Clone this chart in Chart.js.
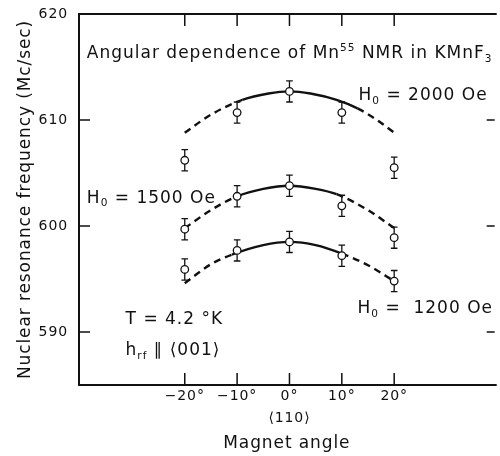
<!DOCTYPE html>
<html>
<head>
<meta charset="utf-8">
<script src="https://cdn.jsdelivr.net/npm/chart.js@4.4.1/dist/chart.umd.min.js"></script>
<style>
html,body{margin:0;padding:0;background:#fff;}
#wrap{width:500px;height:456px;}
</style>
</head>
<body>
<div id="wrap"><canvas id="nmrChart" width="500" height="456"></canvas></div>
<script>
// measured points: magnet angle (deg) vs frequency (Mc/sec)
const angles = [-20, -10, 0, 10, 20];
const freq2000 = [606.2, 610.7, 612.7, 610.7, 605.5];
const freq1500 = [599.7, 602.8, 603.8, 601.9, 598.9];
const freq1200 = [595.9, 597.7, 598.5, 597.2, 594.8];
const errBar = [1.0, 1.0, 1.0, 1.0, 1.0];

// curves as drawn on the figure
const curveAngles2000 = [-20, -15, -9, -4, 0, 4, 9, 13, 17, 20];
const curve2000 = [608.8, 610.5, 611.9, 612.5, 612.7, 612.5, 611.9, 611.1, 609.9, 608.8];
const curveAngles1500 = [-20, -15, -10, -5, 0, 5, 9, 15, 20];
const curve1500 = [599.8, 601.5, 602.8, 603.5, 603.8, 603.5, 603.0, 601.5, 599.8];
const curveAngles1200 = [-20, -15, -11, -5, 0, 5, 10, 15, 20];
const curve1200 = [594.6, 596.4, 597.3, 598.2, 598.5, 598.2, 597.4, 596.3, 594.8];
// solid part of each curve, dashed outside it
const solid2000 = [-9, 13];
const solid1500 = [-10, 9];
const solid1200 = [-11, 10];

const xTicks = [-20, -10, 0, 10, 20];
const yTicks = [590, 600, 610, 620];

const FONT = "'DejaVu Sans', sans-serif";
const INK = "#111";

function dashOutside(range){
  return ctx => (ctx.p0.parsed.x >= range[0] && ctx.p1.parsed.x <= range[1]) ? [] : [7, 5];
}

function curve(xs, ys, range){
  return {
    data: xs.map((x, i) => ({x: x, y: ys[i]})),
    showLine: true,
    borderColor: INK,
    borderWidth: 2.4,
    pointRadius: 0,
    cubicInterpolationMode: "monotone",
    segment: {borderDash: dashOutside(range)},
    order: 2
  };
}

function points(ys){
  return {
    data: angles.map((x, i) => ({x: x, y: ys[i]})),
    showLine: false,
    pointRadius: 3.8,
    pointBackgroundColor: "#fff",
    pointBorderColor: INK,
    pointBorderWidth: 1.3,
    errors: errBar,
    order: 0
  };
}

function drawRich(ctx, parts, x, y, size){
  parts.forEach(p => {
    const s = (p.sub || p.sup) ? size * 0.62 : size;
    ctx.font = s + "px " + FONT;
    const dy = p.sub ? size * 0.22 : (p.sup ? -size * 0.42 : 0);
    ctx.fillText(p.t, x, y + dy);
    x += ctx.measureText(p.t).width;
  });
}

// text placed in data coordinates
const notes = [
  {x: -38.7, y: 615.85, parts: [{t: "Angular dependence of Mn"}, {t: "55", sup: 1}, {t: " NMR in KMnF"}, {t: "3", sub: 1}]},
  {x: 13.2, y: 611.9, parts: [{t: "H"}, {t: "0", sub: 1}, {t: " = 2000 Oe"}]},
  {x: -38.7, y: 602.2, parts: [{t: "H"}, {t: "0", sub: 1}, {t: " = 1500 Oe"}]},
  {x: 13.0, y: 591.8, parts: [{t: "H"}, {t: "0", sub: 1}, {t: " =  1200 Oe"}]},
  {x: -31.3, y: 590.75, parts: [{t: "T = 4.2 °K"}]},
  {x: -31.3, y: 587.8, parts: [{t: "h"}, {t: "rf", sub: 1}, {t: " ∥ ⟨001⟩"}]}
];

const framePlugin = {
  id: "frame",
  beforeDraw(chart){
    chart.ctx.letterSpacing = "0.9px";
  },
  beforeDatasetsDraw(chart){
    const {ctx, scales: {x, y}} = chart;
    ctx.save();
    ctx.strokeStyle = INK;
    ctx.lineWidth = 1.3;
    chart.data.datasets.forEach(ds => {
      if (!ds.errors) return;
      ds.data.forEach((p, i) => {
        const px = x.getPixelForValue(p.x);
        const t = y.getPixelForValue(p.y + ds.errors[i]);
        const b = y.getPixelForValue(p.y - ds.errors[i]);
        ctx.beginPath();
        ctx.moveTo(px, t); ctx.lineTo(px, b);
        ctx.moveTo(px - 3.3, t); ctx.lineTo(px + 3.3, t);
        ctx.moveTo(px - 3.3, b); ctx.lineTo(px + 3.3, b);
        ctx.stroke();
      });
    });
    ctx.restore();
  },
  afterDraw(chart){
    const {ctx, chartArea: a, scales: {x, y}} = chart;
    ctx.save();
    ctx.strokeStyle = INK;
    ctx.lineWidth = 2;
    ctx.beginPath();
    ctx.moveTo(a.right + 2, a.top); ctx.lineTo(a.left, a.top);
    ctx.lineTo(a.left, a.bottom); ctx.lineTo(a.right + 2, a.bottom);
    ctx.stroke();
    ctx.lineWidth = 1.5;
    ctx.beginPath();
    xTicks.forEach(v => {
      const px = x.getPixelForValue(v);
      ctx.moveTo(px, a.top); ctx.lineTo(px, a.top + 12);
      ctx.moveTo(px, a.bottom); ctx.lineTo(px, a.bottom - 12);
    });
    yTicks.slice(0, 3).forEach(v => {
      const py = y.getPixelForValue(v);
      ctx.moveTo(a.left, py); ctx.lineTo(a.left + 11, py);
      ctx.moveTo(a.right, py); ctx.lineTo(a.right - 8, py);
    });
    ctx.stroke();
    ctx.fillStyle = INK;
    ctx.textBaseline = "alphabetic";
    ctx.textAlign = "left";
    ctx.letterSpacing = "1px";
    notes.forEach(n => drawRich(ctx, n.parts, x.getPixelForValue(n.x), y.getPixelForValue(n.y), 17));
    ctx.restore();
  }
};

new Chart(document.getElementById("nmrChart"), {
  type: "scatter",
  data: {
    datasets: [
      points(freq2000), points(freq1500), points(freq1200),
      curve(curveAngles2000, curve2000, solid2000),
      curve(curveAngles1500, curve1500, solid1500),
      curve(curveAngles1200, curve1200, solid1200)
    ]
  },
  options: {
    responsive: false,
    animation: false,
    layout: {padding: {top: 14, right: 0, left: 0, bottom: 0}},
    plugins: {legend: {display: false}, tooltip: {enabled: false}},
    scales: {
      x: {
        type: "linear",
        min: -40.2,
        max: 39.2,
        afterBuildTicks: s => { s.ticks = xTicks.map(v => ({value: v})); },
        afterFit: s => { s.height = 71; s.paddingLeft = 0; s.paddingRight = 0; },
        grid: {display: false, drawTicks: false},
        border: {display: false},
        ticks: {
          color: INK,
          padding: 0,
          font: {family: FONT, size: 14, lineHeight: 1.6},
          callback: v => v === 0 ? ["0°", "⟨110⟩"] : (v < 0 ? "−" : "") + Math.abs(v) + "°"
        },
        title: {display: true, text: "Magnet angle", color: INK,
          font: {family: FONT, size: 17}, padding: {top: 0, bottom: 2}}
      },
      y: {
        type: "linear",
        min: 585,
        max: 620,
        afterBuildTicks: s => { s.ticks = yTicks.map(v => ({value: v})); },
        afterFit: s => { s.width = 79; s.paddingTop = 0; s.paddingBottom = 0; },
        grid: {display: false, drawTicks: false},
        border: {display: false},
        ticks: {color: INK, padding: 11, font: {family: FONT, size: 14}},
        title: {display: true, text: "Nuclear resonance frequency (Mc/sec)", color: INK,
          font: {family: FONT, size: 17}, padding: {top: 15, bottom: 0}}
      }
    }
  },
  plugins: [framePlugin]
});
</script>
</body>
</html>
